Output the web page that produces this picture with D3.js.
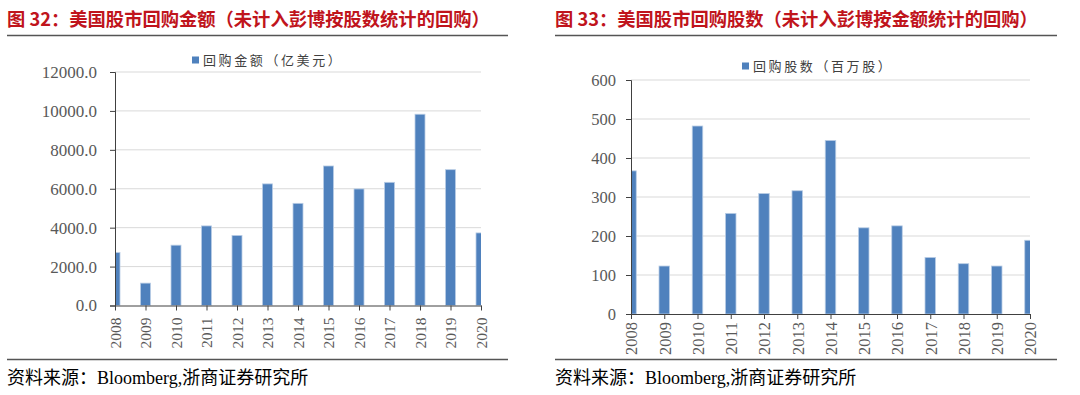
<!DOCTYPE html>
<html>
<head>
    <meta charset="utf-8">
    <title>美国股市回购</title>
    <script src="https://d3js.org/d3.v7.min.js"></script>
    <style>
        body { margin: 0; background: #fff; }
        svg { display: block; }
        .title { font-family: "Noto Sans CJK SC", sans-serif; font-weight: bold; fill: #C0141C; }
        .source { font-family: "Liberation Serif", "Noto Sans CJK SC", serif; fill: #000; }
        .legend { font-family: "Noto Sans CJK SC", sans-serif; fill: #404040; }
        .axis text { font-family: "Liberation Serif", serif; fill: #595959; }
    </style>
</head>
<body>
    <svg width="1080" height="395"></svg>
    <script>
        // 数据
        const years = ["2008", "2009", "2010", "2011", "2012", "2013", "2014",
                       "2015", "2016", "2017", "2018", "2019", "2020"];
        const amount = [2720, 1150, 3100, 4090, 3600, 6250, 5250, 7170, 5990, 6330, 9830, 6980, 3730];
        const shares = [367, 123, 482, 258, 309, 316, 445, 221, 226, 145, 129, 123, 189];
        const amountTicks = [0, 2000, 4000, 6000, 8000, 10000, 12000];
        const shareTicks = [0, 100, 200, 300, 400, 500, 600];

        const svg = d3.select("svg");

        function drawChart(o) {
            const g = svg.append("g");

            // 标题
            g.append("text").attr("class", "title")
                .attr("x", o.left).attr("y", 26)
                .style("font-size", "18.3px")
                .text(o.title);
            g.append("line")
                .attr("x1", o.left).attr("x2", o.right)
                .attr("y1", 35.5).attr("y2", 35.5)
                .attr("stroke", "#555").attr("stroke-width", 1.5);

            // 比例尺
            const x = d3.scalePoint().domain(years).range([o.x0, o.x1]);
            const y = d3.scaleLinear().domain([0, o.max]).range([o.y0, o.y1]);

            // 网格
            g.selectAll("line.grid")
                .data(o.ticks.filter(d => d > 0))
                .enter().append("line")
                .attr("class", "grid")
                .attr("x1", o.x0).attr("x2", o.x1)
                .attr("y1", d => y(d)).attr("y2", d => y(d))
                .attr("stroke", "#d9d9d9").attr("stroke-width", 1);

            // 柱子 (裁剪到绘图区)
            const clipId = "clip" + o.id;
            g.append("clipPath").attr("id", clipId)
                .append("rect")
                .attr("x", o.x0).attr("y", 0)
                .attr("width", o.x1 - o.x0).attr("height", o.y0);
            g.append("g").attr("clip-path", `url(#${clipId})`)
                .selectAll("rect")
                .data(o.values)
                .enter().append("rect")
                .attr("x", (d, i) => x(years[i]) - o.barW / 2)
                .attr("y", d => y(d))
                .attr("width", o.barW)
                .attr("height", d => o.y0 - y(d))
                .attr("fill", "#4F81BD")
                .attr("stroke", "#b9cde5").attr("stroke-width", 0.8);

            // Y 轴
            const yAxis = g.append("g").attr("class", "axis")
                .attr("transform", `translate(${o.x0},0)`)
                .call(d3.axisLeft(y).tickValues(o.ticks).tickFormat(o.fmt)
                    .tickSize(5).tickPadding(o.yPad));
            yAxis.attr("font-size", o.yFont);
            yAxis.selectAll("text").attr("font-size", o.yFont).style("font-size", o.yFont + "px");

            // X 轴
            const xAxis = g.append("g").attr("class", "axis")
                .attr("transform", `translate(0,${o.y0})`)
                .call(d3.axisBottom(x).tickSize(5).tickSizeOuter(0));
            xAxis.attr("font-size", o.xFont);
            xAxis.selectAll("text")
                .style("font-size", o.xFont + "px")
                .attr("transform", "rotate(-90)")
                .attr("text-anchor", "end")
                .attr("x", -o.xPad).attr("y", 0).attr("dy", "0.35em");

            g.selectAll(".axis path, .axis line").attr("stroke", "#404040");

            // 图例
            const lg = g.append("g").attr("transform", `translate(${o.legX},${o.legY})`);
            lg.append("rect").attr("x", 0).attr("y", -3.5)
                .attr("width", 7).attr("height", 7).attr("fill", "#4F81BD");
            lg.append("text").attr("class", "legend")
                .attr("x", 11).attr("dy", "0.36em")
                .style("font-size", "13px").style("letter-spacing", "2.6px")
                .text(o.legend);

            // 来源
            g.append("line")
                .attr("x1", o.left).attr("x2", o.right)
                .attr("y1", 359.5).attr("y2", 359.5)
                .attr("stroke", "#555").attr("stroke-width", 1.5);
            g.append("text").attr("class", "source")
                .attr("x", o.left).attr("y", 384)
                .style("font-size", "18px")
                .text("资料来源：Bloomberg,浙商证券研究所");
        }

        drawChart({
            id: 1, left: 7, right: 508,
            title: "图 32：美国股市回购金额（未计入彭博按股数统计的回购）",
            values: amount, ticks: amountTicks, max: 12000,
            fmt: d3.format(".1f"),
            x0: 115, x1: 481, y0: 305.5, y1: 72,
            barW: 10, yFont: 17, yPad: 13, xFont: 15.5, xPad: 12,
            legend: "回购金额（亿美元）", legX: 192, legY: 60
        });

        drawChart({
            id: 2, left: 555, right: 1057,
            title: "图 33：美国股市回购股数（未计入彭博按金额统计的回购）",
            values: shares, ticks: shareTicks, max: 600,
            fmt: d3.format("d"),
            x0: 631, x1: 1030, y0: 314, y1: 80,
            barW: 10.5, yFont: 16.5, yPad: 10, xFont: 16.5, xPad: 8,
            legend: "回购股数（百万股）", legX: 742, legY: 66
        });
    </script>
</body>
</html>
